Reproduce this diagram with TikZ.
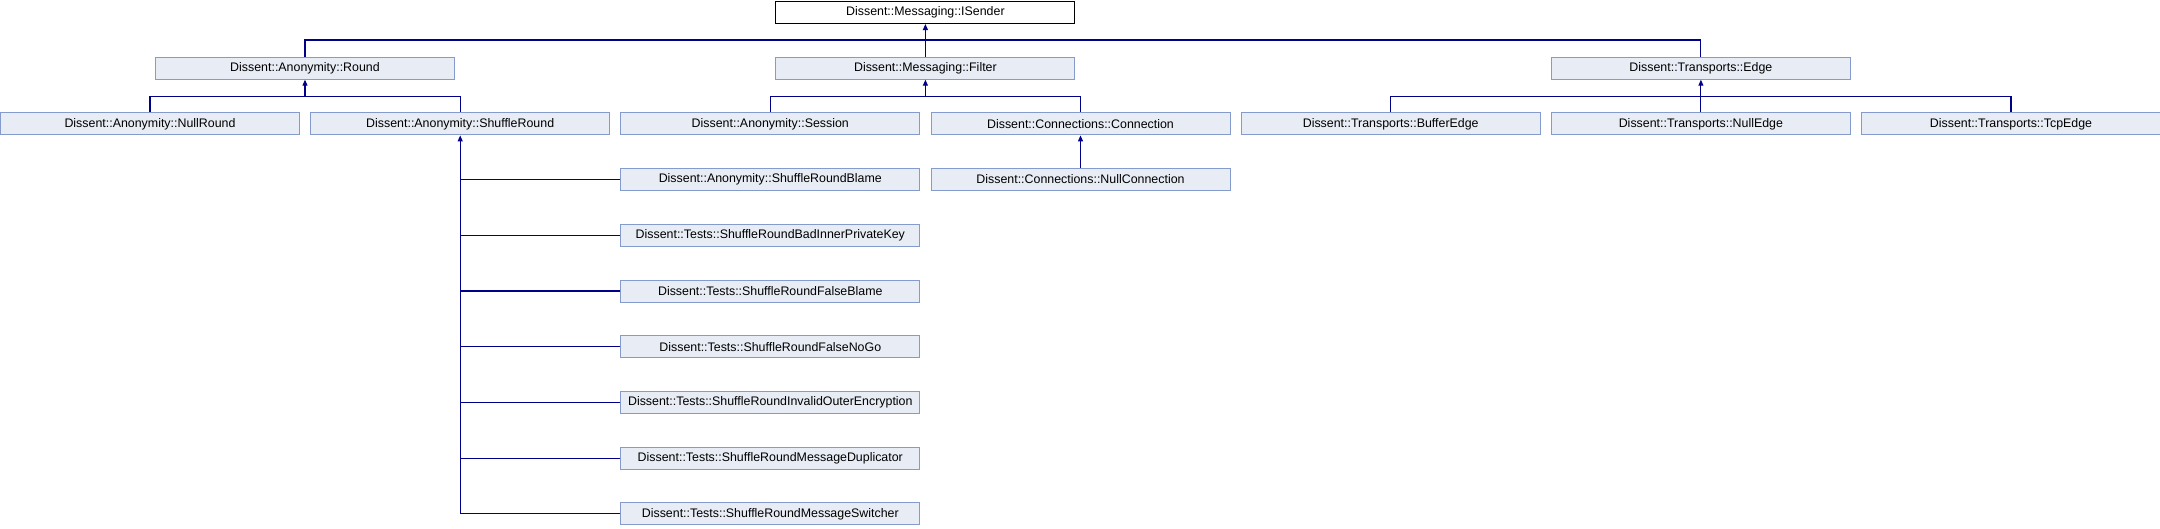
\documentclass[tikz,border=0pt]{standalone}
\usepackage{fontspec}
\setmainfont{Liberation Sans}
\usetikzlibrary{arrows.meta}
\definecolor{boxfill}{HTML}{E8ECF5}
\definecolor{boxline}{HTML}{849BCC}
\definecolor{conn}{HTML}{000088}
\tikzset{
  cls/.style={draw=boxline, fill=boxfill, line width=1pt, rectangle, anchor=north west,
    minimum width=299pt, minimum height=22pt, inner sep=0pt,
    font=\fontsize{12.4}{14}\selectfont},
  topcls/.style={cls, draw=black, fill=white},
  link/.style={draw=conn, line width=1.1pt},
  inh/.style={link, -{Triangle[length=6pt,width=5pt]}},
}
\begin{document}
\begin{tikzpicture}[x=1pt,y=-1pt]
\useasboundingbox (0,0) rectangle (2160,528);
% rows
\node[topcls] (isender) at (775.4,1) {Dissent::Messaging::ISender};
\node[cls] (round) at (155,56.7) {Dissent::Anonymity::Round};
\node[cls] (filter) at (775.4,56.7) {Dissent::Messaging::Filter};
\node[cls] (edge) at (1550.9,56.7) {Dissent::Transports::Edge};
\node[cls] (nullround) at (0,112.4) {Dissent::Anonymity::NullRound};
\node[cls] (shuffle) at (310.2,112.4) {Dissent::Anonymity::ShuffleRound};
\node[cls] (session) at (620.3,112.4) {Dissent::Anonymity::Session};
\node[cls] (connection) at (930.5,112.4) {Dissent::Connections::Connection};
\node[cls] (bufferedge) at (1240.7,112.4) {Dissent::Transports::BufferEdge};
\node[cls] (nulledge) at (1550.9,112.4) {Dissent::Transports::NullEdge};
\node[cls] (tcpedge) at (1861,112.4) {Dissent::Transports::TcpEdge};
\node[cls] (blame) at (620.3,168) {Dissent::Anonymity::ShuffleRoundBlame};
\node[cls] (nullconn) at (930.5,168) {Dissent::Connections::NullConnection};
\node[cls] (badinner) at (620.3,223.8) {Dissent::Tests::ShuffleRoundBadInnerPrivateKey};
\node[cls] (falseblame) at (620.3,279.5) {Dissent::Tests::ShuffleRoundFalseBlame};
\node[cls] (falsenogo) at (620.3,335.2) {Dissent::Tests::ShuffleRoundFalseNoGo};
\node[cls] (invalidouter) at (620.3,391) {Dissent::Tests::ShuffleRoundInvalidOuterEncryption};
\node[cls] (duplicator) at (620.3,446.6) {Dissent::Tests::ShuffleRoundMessageDuplicator};
\node[cls] (switcher) at (620.3,502.3) {Dissent::Tests::ShuffleRoundMessageSwitcher};
% bar coordinates
\coordinate (topbar) at (0,40);
\coordinate (midbar) at (0,96.6);
% top level
\draw[link] (round.north) -- (round.north |- topbar) -- (edge.north |- topbar) -- (edge.north);
\draw[inh] (filter.north) -- (isender.south);
% Round children
\draw[link] (nullround.north) -- (nullround.north |- midbar) -- (shuffle.north |- midbar) -- (shuffle.north);
\draw[inh] (round.south |- midbar) -- (round.south);
% Filter children
\draw[link] (session.north) -- (session.north |- midbar) -- (connection.north |- midbar) -- (connection.north);
\draw[inh] (filter.south |- midbar) -- (filter.south);
% Edge children
\draw[link] (bufferedge.north) -- (bufferedge.north |- midbar) -- (tcpedge.north |- midbar) -- (tcpedge.north);
\draw[link] (nulledge.north) -- (nulledge.north |- midbar);
\draw[inh] (edge.south |- midbar) -- (edge.south);
% Connection child
\draw[inh] (nullconn.north) -- (connection.south);
% ShuffleRound children
\draw[link] (switcher.west) -| (shuffle.south |- blame.west);
\foreach \c in {blame,badinner,falseblame,falsenogo,invalidouter,duplicator}
  \draw[link] (\c.west) -- (shuffle.south |- \c.west);
\draw[inh] (shuffle.south |- blame.west) -- (shuffle.south);
\end{tikzpicture}
\end{document}
